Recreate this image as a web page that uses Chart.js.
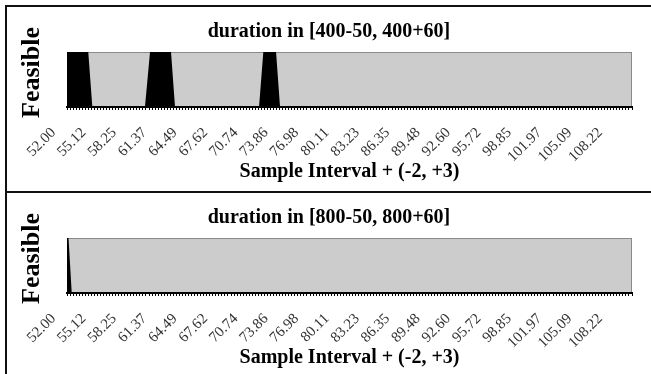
<!DOCTYPE html>
<html>
<head>
<meta charset="utf-8">
<script src="https://cdn.jsdelivr.net/npm/chart.js@4.4.1/dist/chart.umd.min.js"></script>
<style>
  body { margin:0; background:#fff; width:651px; height:374px; overflow:hidden; position:relative; }
  .panel { position:absolute; left:5px; width:646px; border-top:2px solid #111; border-left:2px solid #111; }
  #p1 { top:5px; height:184px; }
  #p2 { top:191px; height:181px; }
  canvas { position:absolute; left:0; top:0; }
</style>
</head>
<body>
<div class="panel" id="p1"><canvas id="c400" width="644" height="180"></canvas></div>
<div class="panel" id="p2"><canvas id="c800" width="644" height="180"></canvas></div>
<script>
// labels under every 10th sample
const tickLabels = ['52.00','55.12','58.25','61.37','64.49','67.62','70.74','73.86','76.98','80.11',
                    '83.23','86.35','89.48','92.60','95.72','98.85','101.97','105.09','108.22'];
const sampleStep = 0.31235;
const sampleCount = 186;
const xMin = 51.844, xMax = 109.94;

// feasible (1) / not feasible (0)
const feasibleX400 = [51.84, 54.03, 54.45, 59.86, 60.38, 62.54, 62.95, 71.59, 72.03, 73.34, 73.75, 109.94];
const feasibleY400 = [1, 1, 0, 0, 1, 1, 0, 0, 1, 1, 0, 0];
const feasibleX800 = [51.84, 52.00, 52.33, 109.94];
const feasibleY800 = [1, 1, 0, 0];

const serif = "'Liberation Serif', 'Times New Roman', serif";
const yTitle = 'Feasible';
const xTitle = 'Sample Interval + (-2, +3)';

const plotFrame = {
    id: 'plotFrame',
    beforeDraw(chart) {
        const {ctx, chartArea: a} = chart;
        ctx.save();
        ctx.fillStyle = '#cccccc';
        ctx.fillRect(a.left, a.top, a.width, a.height);
        ctx.strokeStyle = '#8a8a8a';
        ctx.lineWidth = 1;
        ctx.strokeRect(a.left + 0.5, a.top + 0.5, a.width - 1, a.height);
        ctx.restore();
    },
    afterDraw(chart) {
        const {ctx, chartArea: a} = chart;
        ctx.save();
        ctx.translate(25, (a.top + a.bottom) / 2 - 7);
        ctx.rotate(-Math.PI / 2);
        ctx.font = 'bold 26px ' + serif;
        ctx.fillStyle = '#000';
        ctx.textAlign = 'center';
        ctx.textBaseline = 'middle';
        ctx.fillText(yTitle, 0, 0);
        ctx.restore();
    }
};

function makeChart(id, title, xs, ys) {
    let ctx = document.getElementById(id).getContext('2d');
    return new Chart(ctx, {
        type: 'line',
        data: {
            datasets: [{
                data: xs.map((x, i) => ({x: x, y: ys[i]})),
                fill: 'origin',
                backgroundColor: '#000',
                borderColor: '#000',
                borderWidth: 0,
                pointRadius: 0,
                tension: 0
            }]
        },
        options: {
            responsive: false,
            animation: false,
            events: [],
            layout: { padding: { top: 13, left: 0, right: 0, bottom: 0 } },
            plugins: {
                legend: { display: false },
                tooltip: { enabled: false },
                title: {
                    display: true,
                    text: title,
                    color: '#000',
                    font: { family: serif, size: 20, weight: 'bold' },
                    padding: { top: 0, bottom: 8 }
                }
            },
            scales: {
                x: {
                    type: 'linear',
                    min: xMin,
                    max: xMax,
                    afterBuildTicks: (scale) => {
                        let ticks = [];
                        for (let k = 0; k <= sampleCount; k++) ticks.push({ value: xMin + k * sampleStep, lbl: '' });
                        tickLabels.forEach(t => ticks.push({ value: Number(t), lbl: t }));
                        ticks.sort((a, b) => a.value - b.value);
                        scale.ticks = ticks;
                    },
                    afterFit: (scale) => {
                        scale.height = 80;
                        scale.paddingLeft = 0;
                        scale.paddingRight = 19;
                    },
                    ticks: {
                        autoSkip: false,
                        minRotation: 45,
                        maxRotation: 45,
                        padding: 14,
                        labelOffset: -15,
                        color: '#333',
                        font: { family: serif, size: 15 },
                        callback: (v, i, ticks) => ticks[i].lbl
                    },
                    grid: {
                        drawOnChartArea: false,
                        tickLength: 3,
                        tickColor: (c) => (c.tick && c.tick.lbl) ? 'rgba(0,0,0,0)' : '#000'
                    },
                    border: { display: true, color: '#000', width: 2 },
                    title: {
                        display: true,
                        text: xTitle,
                        color: '#000',
                        font: { family: serif, size: 20, weight: 'bold' },
                        padding: { top: 0, bottom: 3 }
                    }
                },
                y: {
                    min: 0,
                    max: 1,
                    ticks: { display: false },
                    grid: { display: false },
                    border: { display: false },
                    afterFit: (scale) => { scale.width = 60; }
                }
            }
        },
        plugins: [plotFrame]
    });
}

makeChart('c400', 'duration in [400-50, 400+60]', feasibleX400, feasibleY400);
makeChart('c800', 'duration in [800-50, 800+60]', feasibleX800, feasibleY800);
</script>
</body>
</html>
